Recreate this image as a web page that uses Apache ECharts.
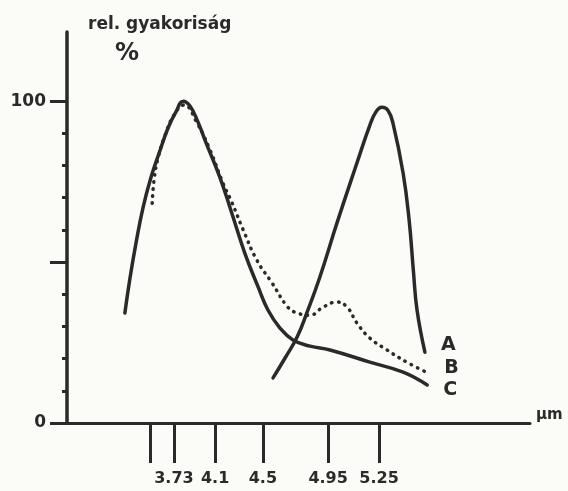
<!DOCTYPE html>
<html>
<head>
<meta charset="utf-8">
<script src="https://cdn.jsdelivr.net/npm/echarts@6/dist/echarts.min.js"></script>
<style>
  html, body {margin: 0; padding: 0; background: #fbfbf8;}
  #main {width: 568px; height: 491px;}
</style>
</head>
<body>
<div id="main"></div>
<script>
// x axis is drawn as position along the axis (0-100); the μm labels sit at the tick positions
const tickPos = [17.9, 23.1, 32.0, 42.3, 56.4, 67.4];
const tickLabels = ['', '3.73', '4.1', '4.5', '4.95', '5.25'];
const yMajorTicks = [0, 50, 100];
const yMinorTicks = [10, 20, 30, 40, 60, 70, 80, 90];

const curveA = [
  [44.5, 14.0], [47.1, 20.2], [49.7, 26.7], [51.8, 34.2], [54.6, 45.3],
  [58.3, 62.1], [62.6, 80.7], [65.4, 92.5], [66.7, 96.6], [68.0, 98.1],
  [69.3, 97.2], [70.4, 93.2], [72.6, 77.6], [73.9, 63.0], [74.8, 47.5],
  [75.6, 35.1], [77.3, 22.0]
];
const curveB = [
  [18.4, 68.3], [18.8, 75.5], [19.7, 82.6], [21.2, 89.4], [23.1, 95.7],
  [25.3, 98.8], [28.1, 93.2], [30.9, 84.8], [33.7, 74.5], [35.6, 68.6],
  [38.0, 60.2], [41.0, 50.6], [44.3, 43.5], [47.7, 36.0], [49.7, 34.2],
  [52.5, 33.5], [55.3, 36.0], [58.3, 37.6], [60.5, 36.0], [62.6, 31.1],
  [65.4, 26.4], [69.1, 22.7], [73.4, 18.9], [78.0, 15.5]
];
const curveC = [
  [12.5, 34.2], [13.6, 45.0], [14.9, 55.9], [16.4, 66.8], [18.1, 76.1],
  [19.9, 83.9], [21.8, 91.6], [23.5, 96.6], [25.1, 100],
  [26.6, 98.4], [28.3, 93.5], [29.8, 87.9], [33.0, 76.4], [35.6, 65.2],
  [38.4, 52.8], [41.3, 42.2], [43.4, 35.1], [46.0, 29.5], [48.8, 25.8],
  [52.5, 23.9], [56.8, 22.7], [65.4, 18.9], [72.6, 15.8], [77.8, 11.8]
];

const ink = '#2a2a2a';
const font = 'DejaVu Sans';

const endLabel = (offset) => ({
  show: true,
  formatter: '{a}',
  color: ink,
  fontFamily: font,
  fontWeight: 'bold',
  fontSize: 19,
  offset: offset
});

const chart = echarts.init(document.getElementById('main'));
chart.setOption({
  animation: false,
  backgroundColor: '#fbfbf8',
  grid: {left: 67, right: 38, top: 32, bottom: 68, outerBoundsMode: 'none'},
  graphic: [
    {type: 'text', left: 88, top: 16,
      style: {text: 'rel. gyakoriság', fill: ink, font: 'bold 17px "DejaVu Sans"'}},
    {type: 'text', left: 115, top: 42,
      style: {text: '%', fill: ink, font: 'bold 24px "DejaVu Sans"'}}
  ],
  xAxis: {
    type: 'value',
    min: 0,
    max: 100,
    name: 'μm',
    nameLocation: 'end',
    nameGap: 6,
    nameTextStyle: {color: ink, fontFamily: font, fontWeight: 'bold', fontSize: 15, verticalAlign: 'bottom'},
    splitLine: {show: false},
    axisLine: {lineStyle: {color: ink, width: 3}},
    axisTick: {customValues: tickPos, length: 40, lineStyle: {color: ink, width: 3}},
    axisLabel: {
      customValues: tickPos.slice(1),
      margin: 48,
      color: ink,
      fontFamily: font,
      fontWeight: 'bold',
      fontSize: 16,
      formatter: (v) => tickLabels[tickPos.indexOf(v)]
    }
  },
  yAxis: [
    {
      type: 'value',
      min: 0,
      max: 121.5,
      splitLine: {show: false},
      axisLine: {show: true, lineStyle: {color: ink, width: 3.5}},
      axisTick: {customValues: yMajorTicks, length: 17, lineStyle: {color: ink, width: 3}},
      axisLabel: {
        customValues: [0, 100],
        margin: 21,
        color: ink,
        fontFamily: font,
        fontWeight: 'bold',
        fontSize: 17
      }
    },
    {
      type: 'value',
      min: 0,
      max: 121.5,
      position: 'left',
      offset: 0,
      splitLine: {show: false},
      axisLine: {show: false},
      axisTick: {show: true, customValues: yMinorTicks, length: 5, lineStyle: {color: ink, width: 3}},
      axisLabel: {show: false}
    }
  ],
  series: [
    {
      name: 'A', type: 'line', data: curveA, smooth: 0.45, symbol: 'none',
      lineStyle: {color: ink, width: 3.5, cap: 'round'},
      endLabel: endLabel([8, -7])
    },
    {
      name: 'B', type: 'line', data: curveB, smooth: 0.45, symbol: 'none',
      lineStyle: {color: ink, width: 3.5, type: [0.5, 6.5], cap: 'round'},
      endLabel: endLabel([8, -5])
    },
    {
      name: 'C', type: 'line', data: curveC, smooth: 0.45, symbol: 'none',
      lineStyle: {color: ink, width: 3.5, cap: 'round'},
      endLabel: endLabel([8, 5])
    }
  ]
});
</script>
</body>
</html>
